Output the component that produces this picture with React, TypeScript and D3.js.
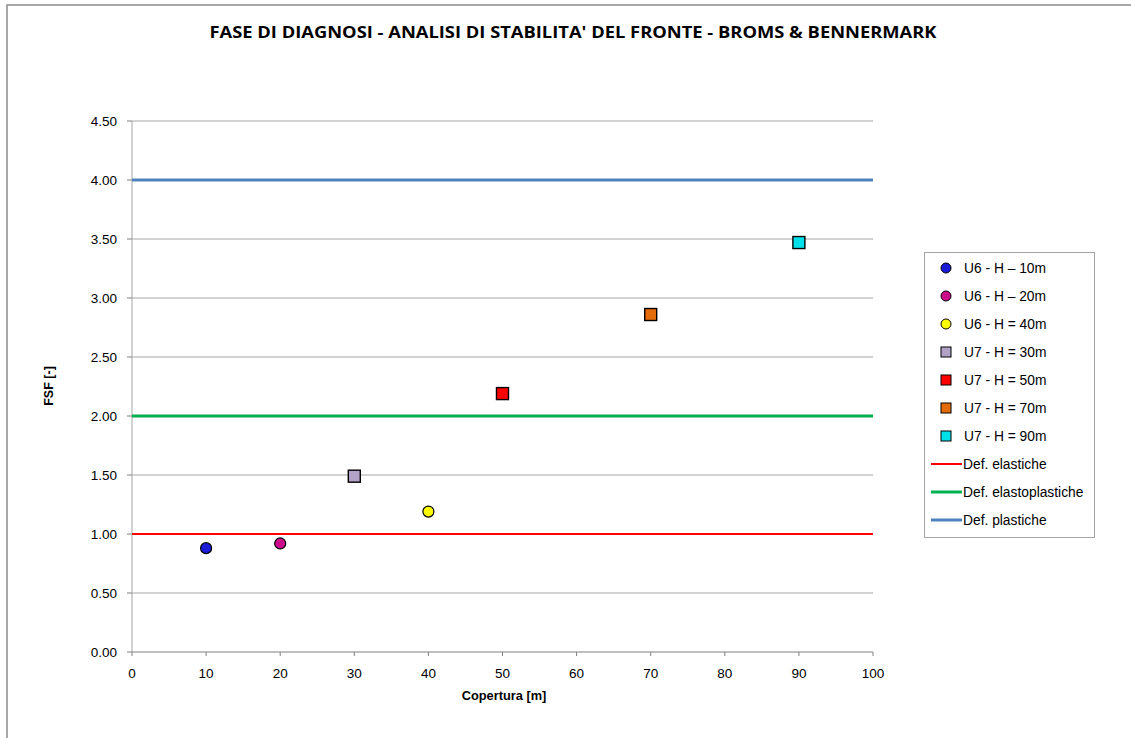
import React from "react";
import * as d3 from "d3";

const seriesNames = [
  "U6 - H – 10m",
  "U6 - H – 20m",
  "U6 - H = 40m",
  "U7 - H = 30m",
  "U7 - H = 50m",
  "U7 - H = 70m",
  "U7 - H = 90m",
];
const coverValues = [10, 20, 40, 30, 50, 70, 90];
const fsfValues = [0.88, 0.92, 1.19, 1.49, 2.19, 2.86, 3.47];
const lineNames = ["Def. elastiche", "Def. elastoplastiche", "Def. plastiche"];
const lineValues = [1.0, 2.0, 4.0];
const xTicks = [0, 10, 20, 30, 40, 50, 60, 70, 80, 90, 100];
const yTicks = [0, 0.5, 1, 1.5, 2, 2.5, 3, 3.5, 4, 4.5];

const markerStyles = [
  { shape: "circle", fill: "#1c1cd8" },
  { shape: "circle", fill: "#cc0a8c" },
  { shape: "circle", fill: "#ffff00" },
  { shape: "square", fill: "#b3a2c8" },
  { shape: "square", fill: "#ff0000" },
  { shape: "square", fill: "#e46c0a" },
  { shape: "square", fill: "#00e0ea" },
];
const lineStyles = [
  { color: "#ff0000", width: 2 },
  { color: "#00b050", width: 3 },
  { color: "#4f81bd", width: 3 },
];

const FONT = "'Liberation Sans', Arial, sans-serif";

export default function App() {
  const x = d3.scaleLinear().domain([0, 100]).range([132, 873]);
  const y = d3.scaleLinear().domain([0, 4.5]).range([652, 121]);
  const legX = 924;
  const legY = 252;
  const step = 28;

  return (
    <svg
      width={1131}
      height={738}
      style={{ position: "absolute", left: 0, top: 0, background: "#fff" }}
    >
      <rect x={0} y={0} width={1131} height={738} fill="#fff" />
      <rect x={7} y={5} width={1300} height={900} fill="none" stroke="#8c8c8c" strokeWidth={1.5} />
      <text
        x={573}
        y={38}
        textAnchor="middle"
        fontFamily="'Open Sans', sans-serif"
        fontWeight="bold"
        fontSize={16.5}
        textLength={727}
        lengthAdjust="spacingAndGlyphs"
        fill="#000"
      >
        FASE DI DIAGNOSI - ANALISI DI STABILITA' DEL FRONTE - BROMS &amp; BENNERMARK
      </text>

      {/* gridlines */}
      {yTicks.filter((t) => t > 0).map((t) => (
        <line key={"g" + t} x1={x(0)} x2={x(100)} y1={y(t)} y2={y(t)} stroke="#a6a6a6" strokeWidth={1} />
      ))}
      {/* axes */}
      <line x1={x(0)} x2={x(0)} y1={y(4.5)} y2={y(0)} stroke="#a6a6a6" strokeWidth={1} />
      <line x1={x(0)} x2={x(100)} y1={y(0)} y2={y(0)} stroke="#808080" strokeWidth={1} />
      {yTicks.map((t) => (
        <g key={"y" + t}>
          <line x1={x(0) - 5} x2={x(0)} y1={y(t)} y2={y(t)} stroke="#808080" />
          <text x={117} y={y(t) + 5} textAnchor="end" fontFamily={FONT} fontSize={13.5} fill="#000">
            {t.toFixed(2)}
          </text>
        </g>
      ))}
      {xTicks.map((t) => (
        <g key={"x" + t}>
          <line x1={x(t)} x2={x(t)} y1={y(0)} y2={y(0) + 4} stroke="#808080" />
          <text x={x(t)} y={678} textAnchor="middle" fontFamily={FONT} fontSize={13.5} fill="#000">
            {t}
          </text>
        </g>
      ))}
      <text x={504} y={700} textAnchor="middle" fontFamily={FONT} fontWeight="bold" fontSize={12.8} fill="#000">
        Copertura [m]
      </text>
      <text
        transform={`translate(53,${386}) rotate(-90)`}
        textAnchor="middle"
        fontFamily={FONT}
        fontWeight="bold"
        fontSize={12.5}
        fill="#000"
      >
        FSF [-]
      </text>

      {/* reference lines */}
      {lineValues.map((v, i) => (
        <line
          key={"l" + i}
          x1={x(0)}
          x2={x(100)}
          y1={y(v)}
          y2={y(v)}
          stroke={lineStyles[i].color}
          strokeWidth={lineStyles[i].width}
        />
      ))}

      {/* points */}
      {coverValues.map((c, i) => {
        const st = markerStyles[i];
        const cx = x(c);
        const cy = y(fsfValues[i]);
        return st.shape === "circle" ? (
          <circle key={"p" + i} cx={cx} cy={cy} r={5.5} fill={st.fill} stroke="#000" strokeWidth={1.2} />
        ) : (
          <rect key={"p" + i} x={cx - 6} y={cy - 6} width={12} height={12} fill={st.fill} stroke="#000" strokeWidth={1.4} />
        );
      })}

      {/* legend */}
      <rect x={legX + 0.5} y={legY + 0.5} width={170} height={285} fill="#fff" stroke="#a6a6a6" />
      {seriesNames.map((n, i) => {
        const st = markerStyles[i];
        const cy = legY + 16 + i * step;
        return (
          <g key={"le" + i}>
            {st.shape === "circle" ? (
              <circle cx={946} cy={cy} r={5} fill={st.fill} stroke="#000" strokeWidth={1} />
            ) : (
              <rect x={941} y={cy - 5} width={10} height={10} fill={st.fill} stroke="#000" strokeWidth={1} />
            )}
            <text x={964} y={cy + 5} fontFamily={FONT} fontSize={13.8} fill="#000">
              {n}
            </text>
          </g>
        );
      })}
      {lineNames.map((n, i) => {
        const cy = legY + 16 + (seriesNames.length + i) * step;
        return (
          <g key={"ll" + i}>
            <line x1={931} x2={962} y1={cy} y2={cy} stroke={lineStyles[i].color} strokeWidth={lineStyles[i].width} />
            <text x={963} y={cy + 5} fontFamily={FONT} fontSize={13.8} fill="#000">
              {n}
            </text>
          </g>
        );
      })}
    </svg>
  );
}
